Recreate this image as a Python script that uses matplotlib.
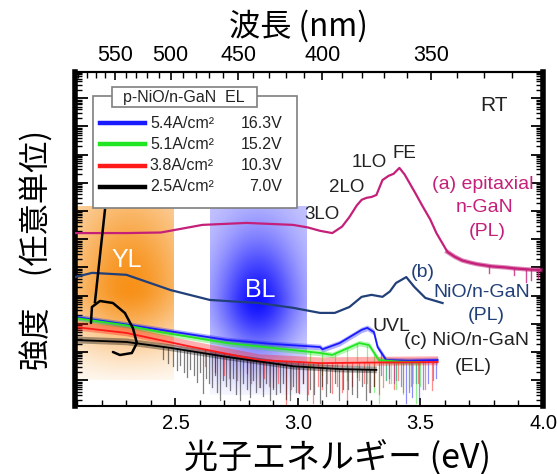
import numpy as np
import matplotlib
matplotlib.use("Agg")
import matplotlib.pyplot as plt
from matplotlib.lines import Line2D
from matplotlib.patches import Rectangle

# ---------------- data (photon energy in eV, log10 of intensity in arb. units) ----------------
pl_a_E = [2.09, 2.19, 2.30, 2.44, 2.61, 2.79, 2.98, 3.04, 3.09, 3.14, 3.18, 3.21, 3.24, 3.26,
          3.28, 3.30, 3.32, 3.345, 3.37, 3.39, 3.414, 3.435, 3.455, 3.48, 3.51, 3.54, 3.565,
          3.59, 3.61, 3.64, 3.67, 3.70, 3.73, 3.76, 3.79, 3.82, 3.85, 3.88, 3.91, 3.94, 3.97, 3.99]
pl_a_logI = [6.22, 6.22, 6.22, 6.24, 6.51, 6.58, 6.51, 6.42, 6.30, 6.22, 6.45, 6.79, 7.20, 7.40,
             7.47, 7.50, 7.57, 8.10, 8.25, 8.32, 8.53, 8.30, 8.00, 7.62, 7.15, 6.70, 6.22,
             5.85, 5.55, 5.38, 5.25, 5.18, 5.12, 5.08, 5.04, 5.02, 5.00, 4.97, 4.95, 4.93, 4.92, 4.91]
pl_a_dips_E = [3.78, 3.88, 3.93, 3.95, 3.98]
pl_a_dips_logI = [4.80, 4.75, 4.50, 4.55, 4.62]

pl_b_E = [2.09, 2.16, 2.30, 2.48, 2.64, 2.84, 2.98, 3.09, 3.15, 3.21, 3.26, 3.30, 3.345,
          3.375, 3.40, 3.442, 3.475, 3.52, 3.59]
pl_b_logI = [4.66, 4.81, 4.74, 4.20, 3.85, 3.74, 3.57, 3.39, 3.39, 3.60, 3.96, 4.03, 3.96,
             4.15, 4.45, 4.66, 4.31, 3.92, 3.74]

el_E = {
    "5.4": [2.09, 2.30, 2.44, 2.71, 2.88, 3.09, 3.10, 3.17, 3.26, 3.283, 3.31, 3.325, 3.36, 3.45, 3.57],
    "5.1": [2.09, 2.30, 2.44, 2.71, 3.09, 3.14, 3.25, 3.29, 3.33, 3.42, 3.50],
    "3.8": [2.09, 2.30, 2.57, 2.84, 3.09, 3.30, 3.57],
    "2.5": [2.09, 2.30, 2.48, 2.71, 2.98, 3.17, 3.32],
}
el_logI = {
    "5.4": [3.25, 2.98, 2.79, 2.43, 2.30, 2.18, 2.10, 2.32, 2.79, 2.86, 2.71, 2.18, 1.72, 1.70, 1.72],
    "5.1": [3.21, 2.95, 2.71, 2.32, 1.97, 1.90, 2.32, 2.25, 1.72, 1.66, 1.65],
    "3.8": [2.89, 2.68, 2.18, 1.72, 1.61, 1.63, 1.65],
    "2.5": [2.43, 2.36, 2.15, 1.83, 1.50, 1.40, 1.37],
}
# downward noise spikes (energy, lowest log10 value reached)
el_spike_E = {
    "5.4": [3.34, 3.36, 3.37, 3.39, 3.40, 3.42, 3.44, 3.455, 3.467, 3.48, 3.495, 3.51, 3.53, 3.55, 3.565],
    "5.1": [3.05, 3.10, 3.15, 3.20, 3.24, 3.28, 3.31, 3.33, 3.36, 3.38, 3.40, 3.43, 3.455, 3.47, 3.483, 3.50],
    "3.8": [2.62, 2.66, 2.70, 2.72, 2.75, 2.79, 2.81, 2.84, 2.86, 2.88, 2.90, 2.92, 2.95, 2.97, 3.00,
            3.02, 3.04, 3.06, 3.08, 3.10, 3.12, 3.14, 3.16, 3.18, 3.20, 3.22, 3.25, 3.27, 3.29, 3.31,
            3.33, 3.345, 3.37, 3.39, 3.41, 3.43, 3.46, 3.49, 3.52, 3.548],
    "2.5": [2.45, 2.47, 2.49, 2.505, 2.52, 2.535, 2.546, 2.56, 2.575, 2.587, 2.60, 2.611, 2.625, 2.637,
            2.648, 2.66, 2.67, 2.681, 2.695, 2.708, 2.721, 2.735, 2.748, 2.762, 2.775, 2.79, 2.803,
            2.817, 2.83, 2.844, 2.857, 2.87, 2.884, 2.898, 2.91, 2.925, 2.94, 2.953, 2.966, 2.98,
            2.993, 3.006, 3.02, 3.035, 3.05, 3.065, 3.088, 3.10, 3.115, 3.13, 3.15, 3.169, 3.185,
            3.205, 3.22, 3.239, 3.26, 3.279, 3.295, 3.31],
}
el_spike_logI = {
    "5.4": [1.20, 1.00, 1.10, 0.90, 1.01, 0.80, 0.20, 0.60, 0.40, 0.90, 0.30, 0.70, 0.90, 1.00, 1.10],
    "5.1": [1.40, 1.20, 1.30, 1.00, 1.12, 0.90, 0.60, 0.20, 1.00, 0.90, 0.70, 0.50, 0.76, 0.90, 0.20, 0.80],
    "3.8": [1.50, 1.30, 1.20, 1.10, 1.00, 1.26, 0.90, 0.76, 1.10, 0.80, 0.76, 0.90, 0.05, 0.70, 0.60,
            0.90, 0.50, 0.20, 0.80, 0.70, 0.90, 0.55, 0.80, 0.60, 0.35, 0.80, 1.00, 0.90, 0.60, 0.80,
            0.50, 0.76, 0.90, 0.70, 1.01, 0.60, 0.80, 0.90, 0.70, 0.66],
    "2.5": [1.75, 1.60, 1.50, 1.37, 1.55, 1.30, 1.12, 1.40, 1.20, 0.94, 1.30, 0.55, 1.10, 0.90,
            0.76, 1.20, 0.60, 0.30, 1.00, 0.80, 0.66, 1.10, 0.50, 0.30, 0.90, 0.70, 0.41,
            1.00, 0.60, 0.76, 0.45, 0.90, 0.30, 0.70, 0.50, 0.59, 0.90, 0.35, 0.30, 0.80,
            0.60, 0.55, 0.90, 0.30, 0.70, 0.50, 0.20, 0.80, 0.45, 0.60, 0.90, 0.30, 0.70,
            0.70, 0.50, 0.41, 0.80, 0.30, 0.60, 0.80],
}
el_keys = ["5.4", "5.1", "3.8", "2.5"]
el_current = ["5.4A/cm²", "5.1A/cm²", "3.8A/cm²", "2.5A/cm²"]
el_voltage = ["16.3V", "15.2V", "10.3V", "7.0V"]
el_colors = ["#1a1aff", "#22e622", "#ff1a1a", "#000000"]
el_band_up = [0.10, 0.10, 0.22, 0.14]

x_ticks = [2.5, 3.0, 3.5, 4.0]
wl_ticks = [550, 500, 450, 400, 350]

# ---------------- figure ----------------
XMIN, XMAX = 2.09, 4.0
LMIN, LMAX = 0.09, 11.93

fig = plt.figure(figsize=(5.57, 4.74), dpi=100)
ax = fig.add_axes([75 / 557, 1 - 406 / 474, (543 - 75) / 557, (406 - 72) / 474])
ax.set_xlim(XMIN, XMAX)
ax.set_yscale("log")
ax.set_ylim(10 ** LMIN, 10 ** LMAX)

MAG = "#c4207a"
NAVY = "#213f78"
LATIN = "Liberation Sans"


def ax_x(E):
    return (E - XMIN) / (XMAX - XMIN)


# gradient backgrounds (YL, BL)
def gradient(base, cx, cy, sx, sy, floor, bottom_fade):
    n = 200
    yy, xx = np.mgrid[0:1:n * 1j, 0:1:n * 1j]  # yy=0 top
    w = np.exp(-(((xx - cx) / sx) ** 2 + ((yy - cy) / sy) ** 2))
    w = floor + (1 - floor) * w
    w = w * (1 - bottom_fade * np.clip((yy - 0.5) / 0.5, 0, 1) ** 1.2)
    img = np.ones((n, n, 4))
    for k in range(3):
        img[..., k] = 1 - w * (1 - base[k])
    return img


yl = gradient((0.97, 0.57, 0.10), 0.55, 0.48, 0.60, 0.55, 0.28, 0.85)
ax.imshow(yl, extent=(ax_x(2.09), ax_x(2.49), 0.078, 0.596), transform=ax.transAxes,
          aspect="auto", zorder=0, interpolation="bilinear")
bl = gradient((0.05, 0.05, 1.0), 0.49, 0.55, 0.42, 0.40, 0.22, 0.90)
ax.imshow(bl, extent=(ax_x(2.64), ax_x(3.035), 0.033, 0.596), transform=ax.transAxes,
          aspect="auto", zorder=0, interpolation="bilinear")
ax.set_xlim(XMIN, XMAX)
ax.set_ylim(10 ** LMIN, 10 ** LMAX)

ax.text(ax_x(2.30), 0.437, "YL", transform=ax.transAxes, color="white", fontsize=18,
        family=LATIN, ha="center", va="center", zorder=1)
ax.text(ax_x(2.845), 0.347, "BL", transform=ax.transAxes, color="white", fontsize=18,
        family=LATIN, ha="center", va="center", zorder=1)

# PL curves
ax.plot(pl_a_E, 10 ** np.array(pl_a_logI), color=MAG, lw=1.6, zorder=3)
tail = np.array(pl_a_E) >= 3.6
ax.plot(np.array(pl_a_E)[tail], 10 ** np.array(pl_a_logI)[tail], color=MAG, lw=3.2, alpha=0.55, zorder=3)
for e, l in zip(pl_a_dips_E, pl_a_dips_logI):
    ax.plot([e, e], [10 ** np.interp(e, pl_a_E, pl_a_logI), 10 ** l], color=MAG, lw=1.0, alpha=0.8, zorder=3)
ax.plot(pl_b_E, 10 ** np.array(pl_b_logI), color=NAVY, lw=1.6, zorder=3)

# EL curves
for key, c, up in zip(el_keys, el_colors, el_band_up):
    E = np.array(el_E[key])
    L = np.array(el_logI[key])
    for e, l in zip(el_spike_E[key], el_spike_logI[key]):
        ax.plot([e, e], [10 ** np.interp(e, E, L), 10 ** l], color=c, lw=0.9, alpha=0.5, zorder=2)
    ax.fill_between(E, 10 ** (L - 0.10), 10 ** (L + up), color=c, alpha=0.35, lw=0, zorder=2)
    ax.plot(E, 10 ** L, color=c, lw=1.3, zorder=2.5)

# pointer drawn from legend to EL curves
ptr_x = [0.064, 0.0426]
ptr_y = [0.587, 0.311]
loop_x = [0.0341, 0.0362, 0.0533, 0.0810, 0.1066, 0.1237, 0.1322, 0.1215, 0.0959, 0.0810]
loop_y = [0.2485, 0.2964, 0.3144, 0.3084, 0.2784, 0.2335, 0.1886, 0.1587, 0.1527, 0.1617]
ax.plot(ptr_x, ptr_y, color="black", lw=1.8, transform=ax.transAxes, zorder=4)
ax.plot(loop_x, loop_y, color="black", lw=1.8, transform=ax.transAxes, zorder=4,
        solid_capstyle="round", solid_joinstyle="round")

# legend (drawn by hand)
ax.add_patch(Rectangle((0.038, 0.593), 0.437, 0.335, transform=ax.transAxes, facecolor="white",
                       edgecolor="#7f7f7f", lw=1.2, zorder=5))
ax.add_patch(Rectangle((0.079, 0.895), 0.309, 0.06, transform=ax.transAxes, facecolor="white",
                       edgecolor="#7f7f7f", lw=1.2, zorder=6))
ax.text(0.233, 0.925, "p-NiO/n-GaN  EL", transform=ax.transAxes, fontsize=11.5,
        family=LATIN, ha="center", va="center", color="#222222", zorder=7)
for i, (c, cur, v) in enumerate(zip(el_colors, el_current, el_voltage)):
    yy = [0.847, 0.784, 0.719, 0.656][i]
    ax.add_line(Line2D([0.053, 0.149], [yy, yy], transform=ax.transAxes, color=c, lw=3.2, zorder=7))
    ax.text(0.160, yy, cur, transform=ax.transAxes, fontsize=11.5, family=LATIN,
            ha="left", va="center", color="#222222", zorder=7)
    ax.text(0.443, yy, v, transform=ax.transAxes, fontsize=11.5, family=LATIN,
            ha="right", va="center", color="#222222", zorder=7)

# annotations
kw = dict(transform=ax.transAxes, family=LATIN, ha="center", va="center", zorder=8)
ax.text(0.896, 0.901, "RT", fontsize=15, color="#222222", **kw)
ax.text(0.704, 0.757, "FE", fontsize=13.5, color="#222222", **kw)
ax.text(0.629, 0.728, "1LO", fontsize=13.5, color="#222222", **kw)
ax.text(0.580, 0.653, "2LO", fontsize=13.5, color="#222222", **kw)
ax.text(0.527, 0.572, "3LO", fontsize=13.5, color="#222222", **kw)
ax.text(0.872, 0.662, "(a) epitaxial", fontsize=14, color=MAG, **kw)
ax.text(0.876, 0.593, "n-GaN", fontsize=14, color=MAG, **kw)
ax.text(0.881, 0.521, "(PL)", fontsize=14, color=MAG, **kw)
ax.text(0.742, 0.401, "(b)", fontsize=14, color=NAVY, **kw)
ax.text(0.870, 0.341, "NiO/n-GaN", fontsize=14, color=NAVY, **kw)
ax.text(0.878, 0.272, "(PL)", fontsize=14, color=NAVY, **kw)
ax.text(0.676, 0.237, "UVL", fontsize=14, color="#222222", **kw)
ax.text(0.836, 0.195, "(c) NiO/n-GaN", fontsize=14, color="#222222", **kw)
ax.text(0.851, 0.117, "(EL)", fontsize=14, color="#222222", **kw)

# axes styling
ax.set_xticks(x_ticks)
ax.set_xticklabels([f"{t:.1f}" for t in x_ticks])
ax.set_xticks(np.arange(2.1, 4.0, 0.1), minor=True)
ax.tick_params(axis="x", which="major", direction="in", length=6, width=1.2, labelsize=14.5, pad=6)
ax.tick_params(axis="x", which="minor", direction="in", length=4, width=1.0)
ax.tick_params(axis="y", which="both", direction="in", left=True, right=True, labelleft=False)
ax.tick_params(axis="y", which="major", length=9, width=1.3)
ax.tick_params(axis="y", which="minor", length=5, width=1.0)
ax.yaxis.set_major_locator(matplotlib.ticker.LogLocator(base=10, numticks=20))
ax.yaxis.set_minor_locator(matplotlib.ticker.LogLocator(base=10, subs=np.arange(2, 10), numticks=20))
ax.yaxis.set_minor_formatter(matplotlib.ticker.NullFormatter())
for lab in ax.get_xticklabels():
    lab.set_family(LATIN)
for s in ["left", "right"]:
    ax.spines[s].set_linewidth(4)
for s in ["top", "bottom"]:
    ax.spines[s].set_linewidth(1.5)


def e2w(E):
    E = np.asarray(E, dtype=float)
    with np.errstate(divide="ignore"):
        return 1240.0 / E


sec = ax.secondary_xaxis("top", functions=(e2w, e2w))
sec.set_xticks(wl_ticks)
sec.set_xticklabels([str(t) for t in wl_ticks])
sec.set_xticks(np.arange(320, 600, 10), minor=True)
sec.tick_params(axis="x", which="major", direction="in", length=6, width=1.2, labelsize=15.5, pad=4)
sec.tick_params(axis="x", which="minor", direction="in", length=4, width=1.0)
for lab in sec.get_xticklabels():
    lab.set_family(LATIN)
sec.spines["top"].set_linewidth(1.5)

cjk = ["Noto Sans CJK JP", "DejaVu Sans"]
fig.text(337 / 557, 1 - 457 / 474, "光子エネルギー (eV)", family=cjk, fontsize=24.5,
         ha="center", va="center")
fig.text(298 / 557, 1 - 26 / 474, "波長 (nm)", family=cjk, fontsize=22.5, ha="center", va="center")
fig.text(37 / 557, 1 - 250 / 474, "強度　(任意単位)", family=cjk, fontsize=22.5, rotation=90,
         ha="center", va="center")

fig.savefig("out.png", dpi=100)
